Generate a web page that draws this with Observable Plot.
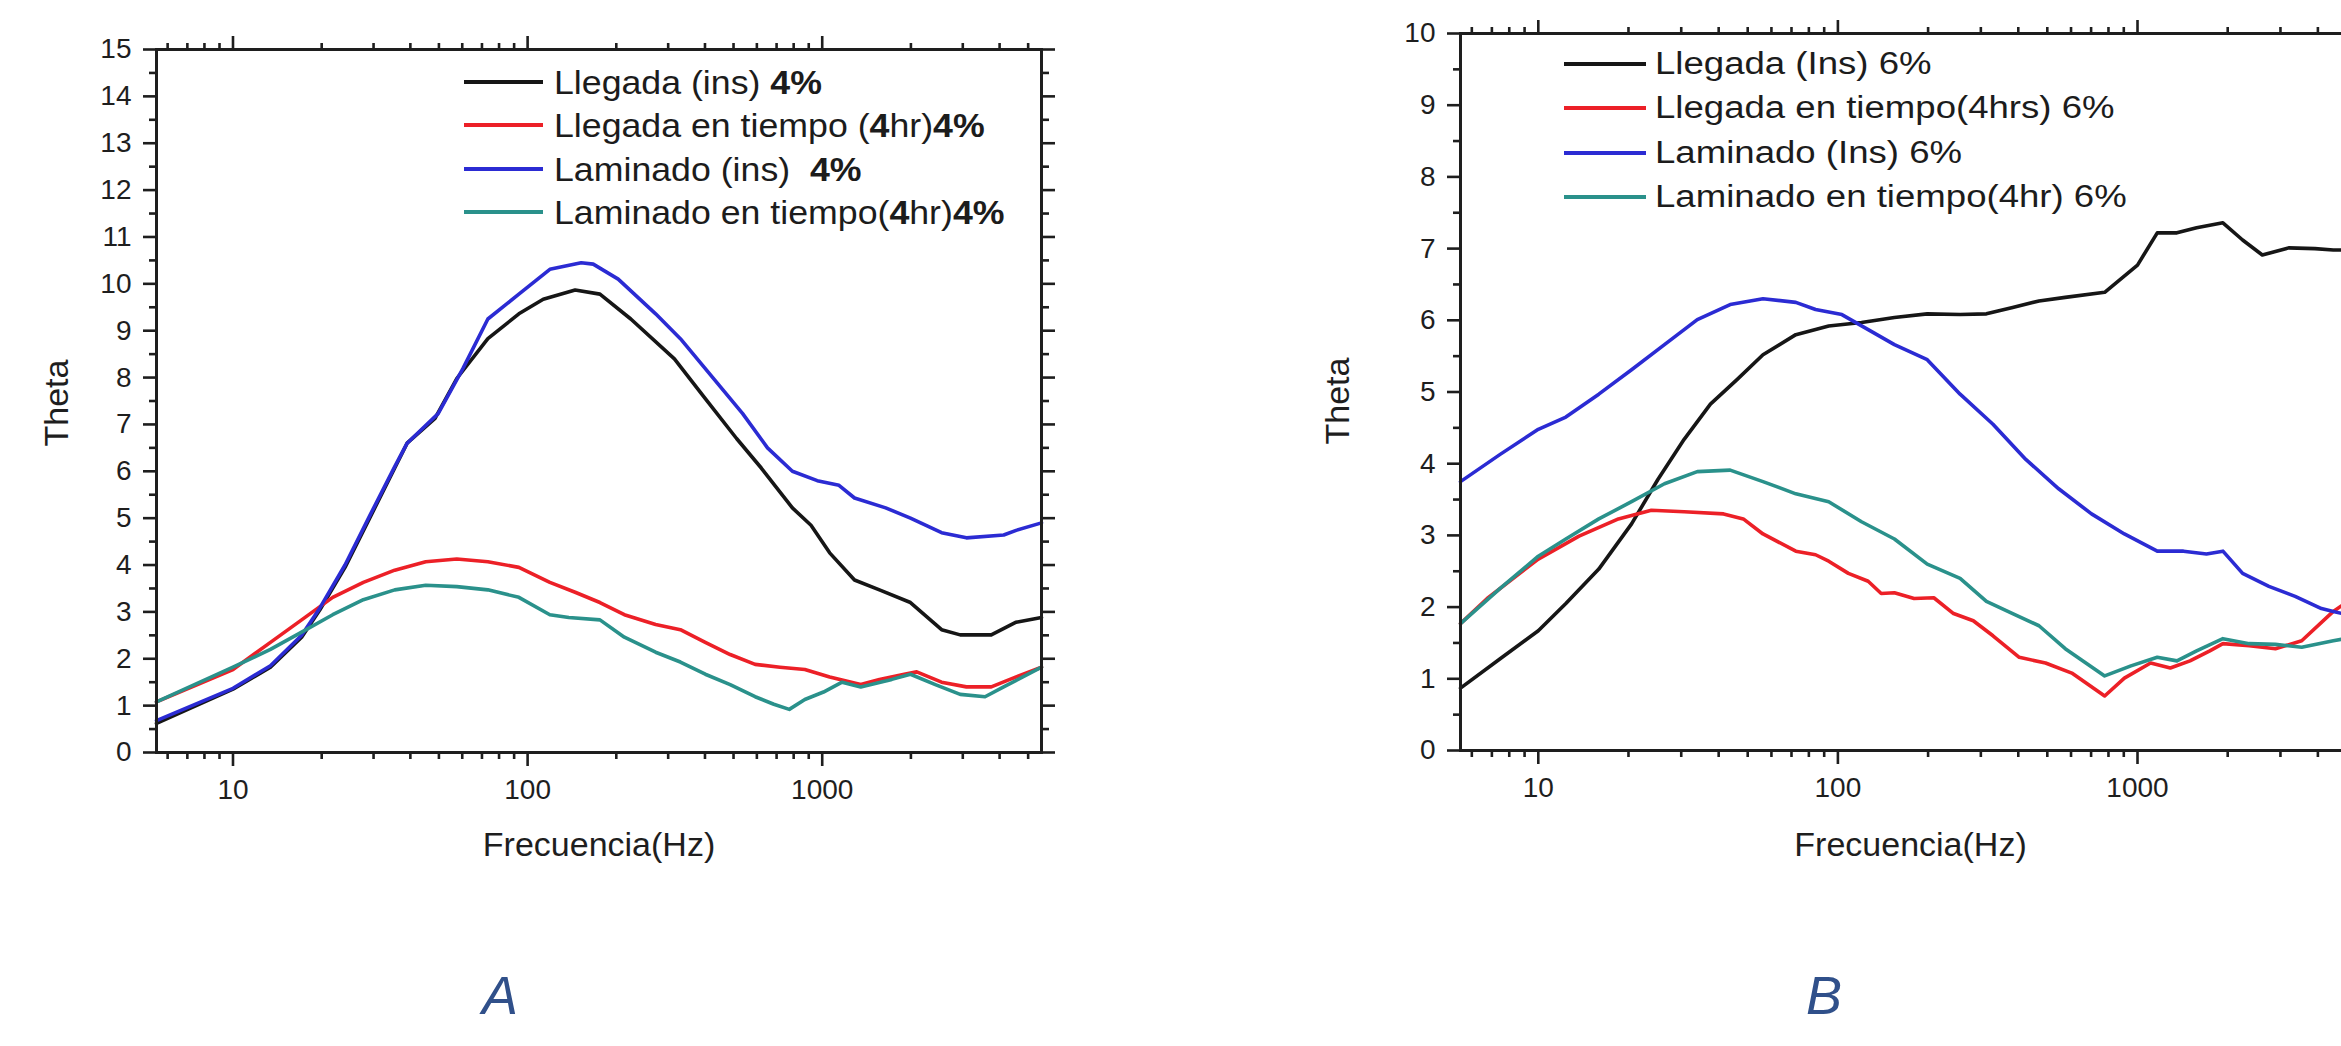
<!DOCTYPE html>
<html>
<head>
<meta charset="utf-8">
<script src="https://cdn.jsdelivr.net/npm/d3@7"></script>
<script src="https://cdn.jsdelivr.net/npm/@observablehq/plot@0.6"></script>
<style>
html, body { margin: 0; padding: 0; background: #fff; overflow: hidden; width: 2341px; height: 1046px; }
#root { position: relative; width: 2341px; height: 1046px; overflow: hidden; font-family: "Liberation Sans", Arial, sans-serif; }
.sw { position: absolute; height: 4px; }
.txt { position: absolute; white-space: nowrap; transform-origin: left center; line-height: 40px; height: 40px; color: #1c1c1c; }
.panelLabel { position: absolute; font-style: italic; color: #30508a; font-size: 54px; line-height: 54px; transform: translateX(-50%); }
</style>
</head>
<body>
<div id="root"></div>
<script>
// ---------- shared axis values ----------
const xDomain = [5.5, 5550];
const xMajorTicks = [10, 100, 1000];
const xMinorTicks = [6, 7, 8, 9, 20, 30, 40, 50, 60, 70, 80, 90, 200, 300, 400, 500, 600, 700, 800, 900, 2000, 3000, 4000, 5000];
const lineColors = ["#161616", "#ec2027", "#2b2bd3", "#2a918b"];
const xTitle = "Frecuencia(Hz)";
const yTitle = "Theta";
const panelNames = ["A", "B"];

// ---------- Panel A (4%) ----------
const seriesA = ["Llegada (ins) 4%", "Llegada en tiempo (4hr)4%", "Laminado (ins)  4%", "Laminado en tiempo(4hr)4%"];

const freqA_llegadaIns = [5.5, 10, 13.4, 17.1, 19.7, 24, 29.1, 35.4, 39, 48.5, 57.5, 73.3, 93.4, 113, 145, 176, 224, 315, 401, 512, 621, 792, 916, 1060, 1287, 1564, 1993, 2542, 2940, 3748, 4552, 5550];
const thetaA_llegadaIns = [0.62, 1.35, 1.82, 2.46, 3.04, 3.95, 5.0, 6.07, 6.6, 7.13, 7.98, 8.83, 9.36, 9.67, 9.87, 9.78, 9.25, 8.4, 7.55, 6.7, 6.07, 5.22, 4.85, 4.26, 3.68, 3.47, 3.2, 2.62, 2.51, 2.51, 2.78, 2.88];

const freqA_llegadaTiempo = [5.5, 10, 13.4, 17.1, 21.8, 27.7, 35.4, 45.1, 57.5, 73.3, 93.4, 119, 145, 176, 213, 272, 330, 401, 487, 592, 719, 873, 1060, 1351, 1564, 1899, 2093, 2542, 3086, 3748, 4337, 5550];
const thetaA_llegadaTiempo = [1.08, 1.77, 2.35, 2.83, 3.31, 3.63, 3.89, 4.07, 4.13, 4.07, 3.95, 3.63, 3.42, 3.2, 2.94, 2.73, 2.62, 2.35, 2.09, 1.88, 1.82, 1.77, 1.61, 1.45, 1.56, 1.67, 1.72, 1.5, 1.4, 1.4, 1.56, 1.82];

const freqA_laminadoIns = [5.5, 10, 13.4, 17.1, 19.7, 24, 29.1, 35.4, 39, 49.7, 60.3, 73.3, 93.4, 119, 152, 167, 203, 272, 330, 442, 537, 652, 792, 962, 1140, 1287, 1642, 1993, 2542, 3086, 4130, 4552, 5550];
const thetaA_laminadoIns = [0.68, 1.37, 1.85, 2.5, 3.08, 4.0, 5.05, 6.1, 6.6, 7.23, 8.19, 9.25, 9.78, 10.31, 10.45, 10.42, 10.1, 9.36, 8.83, 7.87, 7.23, 6.5, 6.0, 5.8, 5.7, 5.43, 5.22, 5.0, 4.69, 4.58, 4.64, 4.74, 4.9];

const freqA_laminadoTiempo = [5.5, 10, 13.4, 17.1, 21.8, 27.7, 35.4, 45.1, 57.5, 73.3, 93.4, 119, 138, 176, 213, 272, 330, 401, 487, 592, 685, 773, 873, 1010, 1168, 1351, 1723, 1993, 2421, 2940, 3570, 4130, 5550];
const thetaA_laminadoTiempo = [1.08, 1.82, 2.2, 2.57, 2.94, 3.26, 3.47, 3.57, 3.54, 3.47, 3.31, 2.94, 2.88, 2.83, 2.46, 2.14, 1.93, 1.67, 1.45, 1.19, 1.03, 0.92, 1.13, 1.29, 1.5, 1.4, 1.56, 1.67, 1.45, 1.24, 1.19, 1.4, 1.82];

// ---------- Panel B (6%) ----------
const seriesB = ["Llegada (Ins) 6%", "Llegada en tiempo(4hrs) 6%", "Laminado (Ins) 6%", "Laminado en tiempo(4hr) 6%"];

const freqB_llegadaIns = [5.5, 7.46, 10, 12.36, 15.92, 20.48, 25.07, 30.68, 37.54, 45.95, 56.23, 72.37, 93.18, 119.9, 154.4, 198.7, 255.8, 313.1, 383.1, 469, 573.9, 777, 1000, 1164, 1354, 1575, 1928, 2243, 2610, 3194, 3909, 4503, 5550];
const thetaB_llegadaIns = [0.87, 1.28, 1.67, 2.05, 2.53, 3.16, 3.78, 4.34, 4.83, 5.17, 5.52, 5.8, 5.92, 5.97, 6.04, 6.09, 6.08, 6.09, 6.18, 6.27, 6.32, 6.39, 6.77, 7.22, 7.22, 7.29, 7.36, 7.12, 6.91, 7.01, 7.0, 6.98, 6.98];

const freqB_llegadaTiempo = [5.5, 6.75, 10, 13.68, 18.51, 23.84, 30.68, 41.53, 48.33, 56.23, 72.37, 84.23, 93.18, 108.4, 126.2, 139.5, 154.4, 179.6, 209, 243.2, 283.1, 329.3, 403, 493.2, 603.6, 777, 904, 1106, 1287, 1497, 1743, 1928, 2359, 2887, 3533, 4503, 5550];
const thetaB_llegadaTiempo = [1.77, 2.12, 2.67, 2.99, 3.23, 3.35, 3.33, 3.3, 3.23, 3.02, 2.78, 2.73, 2.64, 2.47, 2.36, 2.19, 2.2, 2.12, 2.13, 1.91, 1.81, 1.6, 1.3, 1.22, 1.08, 0.76, 1.01, 1.22, 1.15, 1.25, 1.39, 1.49, 1.46, 1.42, 1.53, 1.94, 2.2];

const freqB_laminadoIns = [5.5, 7.46, 10, 12.36, 15.92, 20.48, 26.37, 33.94, 43.69, 56.23, 72.37, 84.23, 103.1, 126.2, 154.4, 198.7, 255.8, 329.3, 423.8, 545.6, 702.3, 904, 1164, 1424, 1699, 1928, 2243, 2745, 3359, 4111, 4503, 5550];
const thetaB_laminadoIns = [3.75, 4.13, 4.48, 4.65, 4.97, 5.31, 5.66, 6.01, 6.22, 6.3, 6.25, 6.15, 6.08, 5.87, 5.66, 5.45, 4.97, 4.55, 4.06, 3.65, 3.3, 3.02, 2.78, 2.78, 2.74, 2.78, 2.47, 2.29, 2.15, 1.98, 1.94, 1.85];

const freqB_laminadoTiempo = [5.5, 7.46, 10, 12.36, 15.92, 20.48, 26.37, 33.94, 43.69, 56.23, 72.37, 93.18, 119.9, 154.4, 198.7, 255.8, 313.1, 383.1, 469, 573.9, 777, 950.8, 1164, 1354, 1575, 1928, 2359, 2887, 3533, 4503, 5550];
const thetaB_laminadoTiempo = [1.77, 2.26, 2.71, 2.95, 3.23, 3.47, 3.72, 3.89, 3.91, 3.75, 3.58, 3.47, 3.19, 2.95, 2.6, 2.4, 2.08, 1.91, 1.74, 1.42, 1.04, 1.18, 1.3, 1.25, 1.39, 1.56, 1.49, 1.48, 1.44, 1.53, 1.6];

// ---------- build ----------
function tidy(series, freqs, vals) {
  const out = [];
  series.forEach((s, i) => freqs[i].forEach((f, j) => out.push({f, v: vals[i][j], s})));
  return out;
}

function makePanel(cfg) {
  const data = tidy(cfg.series, cfg.freqs, cfg.vals);
  const yMajor = d3.range(0, cfg.yMax + 1);
  const yMinor = d3.range(0.5, cfg.yMax, 1);
  const blank = () => "";
  const tk = {strokeWidth: 2.6, label: null};
  const svg = Plot.plot({
    width: cfg.width, height: cfg.height,
    marginLeft: cfg.ml, marginRight: cfg.mr, marginTop: cfg.mt, marginBottom: cfg.mb,
    style: {fontFamily: "'Liberation Sans', Arial, sans-serif", fontSize: "28px", color: "#1e1e1e", background: "transparent", overflow: "visible"},
    x: {type: "log", domain: xDomain, label: null},
    y: {domain: [0, cfg.yMax], label: null},
    color: {domain: cfg.series, range: lineColors},
    marks: [
      Plot.axisX(xMajorTicks, {...tk, anchor: "bottom", tickSize: 14, tickPadding: 13, tickFormat: d => String(d), fontSize: 28}),
      Plot.axisX(xMinorTicks, {...tk, anchor: "bottom", tickSize: 7, tickFormat: blank}),
      Plot.axisX(xMajorTicks, {...tk, anchor: "top", tickSize: 14, tickFormat: blank}),
      Plot.axisX(xMinorTicks, {...tk, anchor: "top", tickSize: 7, tickFormat: blank}),
      Plot.axisY(yMajor, {...tk, anchor: "left", tickSize: 13, tickPadding: 12, tickFormat: d => String(d), fontSize: 28}),
      Plot.axisY(yMinor, {...tk, anchor: "left", tickSize: 7, tickFormat: blank}),
      Plot.axisY(yMajor, {...tk, anchor: "right", tickSize: 13, tickFormat: blank}),
      Plot.axisY(yMinor, {...tk, anchor: "right", tickSize: 7, tickFormat: blank}),
      Plot.line(data, {x: "f", y: "v", z: "s", stroke: "s", strokeWidth: 3.6, strokeLinejoin: "round"}),
      Plot.frame({strokeWidth: 3, stroke: "#1e1e1e"}),
      Plot.text([yTitle], {text: d => d, frameAnchor: "left", rotate: -90, dx: cfg.yTitleDx, dy: cfg.yTitleDy, fontSize: 34, textAnchor: "middle"}),
      Plot.text([xTitle], {text: d => d, frameAnchor: "bottom", dy: cfg.xTitleDy, fontSize: 34, lineAnchor: "middle"})
    ]
  });
  svg.style.position = "absolute";
  svg.style.left = cfg.left + "px";
  svg.style.top = "0px";
  return svg;
}

const root = document.getElementById("root");

root.appendChild(makePanel({
  series: seriesA,
  freqs: [freqA_llegadaIns, freqA_llegadaTiempo, freqA_laminadoIns, freqA_laminadoTiempo],
  vals: [thetaA_llegadaIns, thetaA_llegadaTiempo, thetaA_laminadoIns, thetaA_laminadoTiempo],
  yMax: 15, left: 0, width: 1100, height: 800, ml: 156, mr: 59, mt: 49, mb: 48,
  yTitleDx: -99, yTitleDy: 2, xTitleDy: 93
}));

root.appendChild(makePanel({
  series: seriesB,
  freqs: [freqB_llegadaIns, freqB_llegadaTiempo, freqB_laminadoIns, freqB_laminadoTiempo],
  vals: [thetaB_llegadaIns, thetaB_llegadaTiempo, thetaB_laminadoIns, thetaB_laminadoTiempo],
  yMax: 10, left: 1300, width: 1120, height: 800, ml: 160, mr: 60, mt: 33, mb: 50,
  yTitleDx: -122, yTitleDy: 9, xTitleDy: 95
}));

// ---------- legends (overlaid inside plot areas) ----------
function boldA(s) {
  return s.replace(/4%/g, "<b>4%</b>").replace(/\(4hr\)/g, "(<b>4</b>hr)").replace(/  /g, "&nbsp; ");
}
function addLegend(series, opt) {
  series.forEach((name, i) => {
    const cy = opt.y0 + i * opt.dy;
    const sw = document.createElement("div");
    sw.className = "sw";
    sw.style.left = opt.x0 + "px";
    sw.style.width = (opt.x1 - opt.x0) + "px";
    sw.style.top = (cy - 2) + "px";
    sw.style.background = lineColors[i];
    root.appendChild(sw);
    const t = document.createElement("div");
    t.className = "txt";
    t.style.left = opt.tx + "px";
    t.style.top = (cy - 20) + "px";
    t.style.fontSize = opt.fs + "px";
    t.style.transform = `scaleX(${opt.sx})`;
    t.innerHTML = opt.fmt ? opt.fmt(name) : name;
    root.appendChild(t);
  });
}
addLegend(seriesA, {x0: 464, x1: 543, tx: 554, y0: 81.7, dy: 43.4, fs: 34, sx: 1.05, fmt: boldA});
addLegend(seriesB, {x0: 1564, x1: 1646, tx: 1655, y0: 64, dy: 44.4, fs: 31, sx: 1.18});

// ---------- panel letters ----------
[[panelNames[0], 500], [panelNames[1], 1824]].forEach(([s, cx]) => {
  const d = document.createElement("div");
  d.className = "panelLabel";
  d.style.left = cx + "px";
  d.style.top = "968px";
  d.textContent = s;
  root.appendChild(d);
});
</script>
</body>
</html>
